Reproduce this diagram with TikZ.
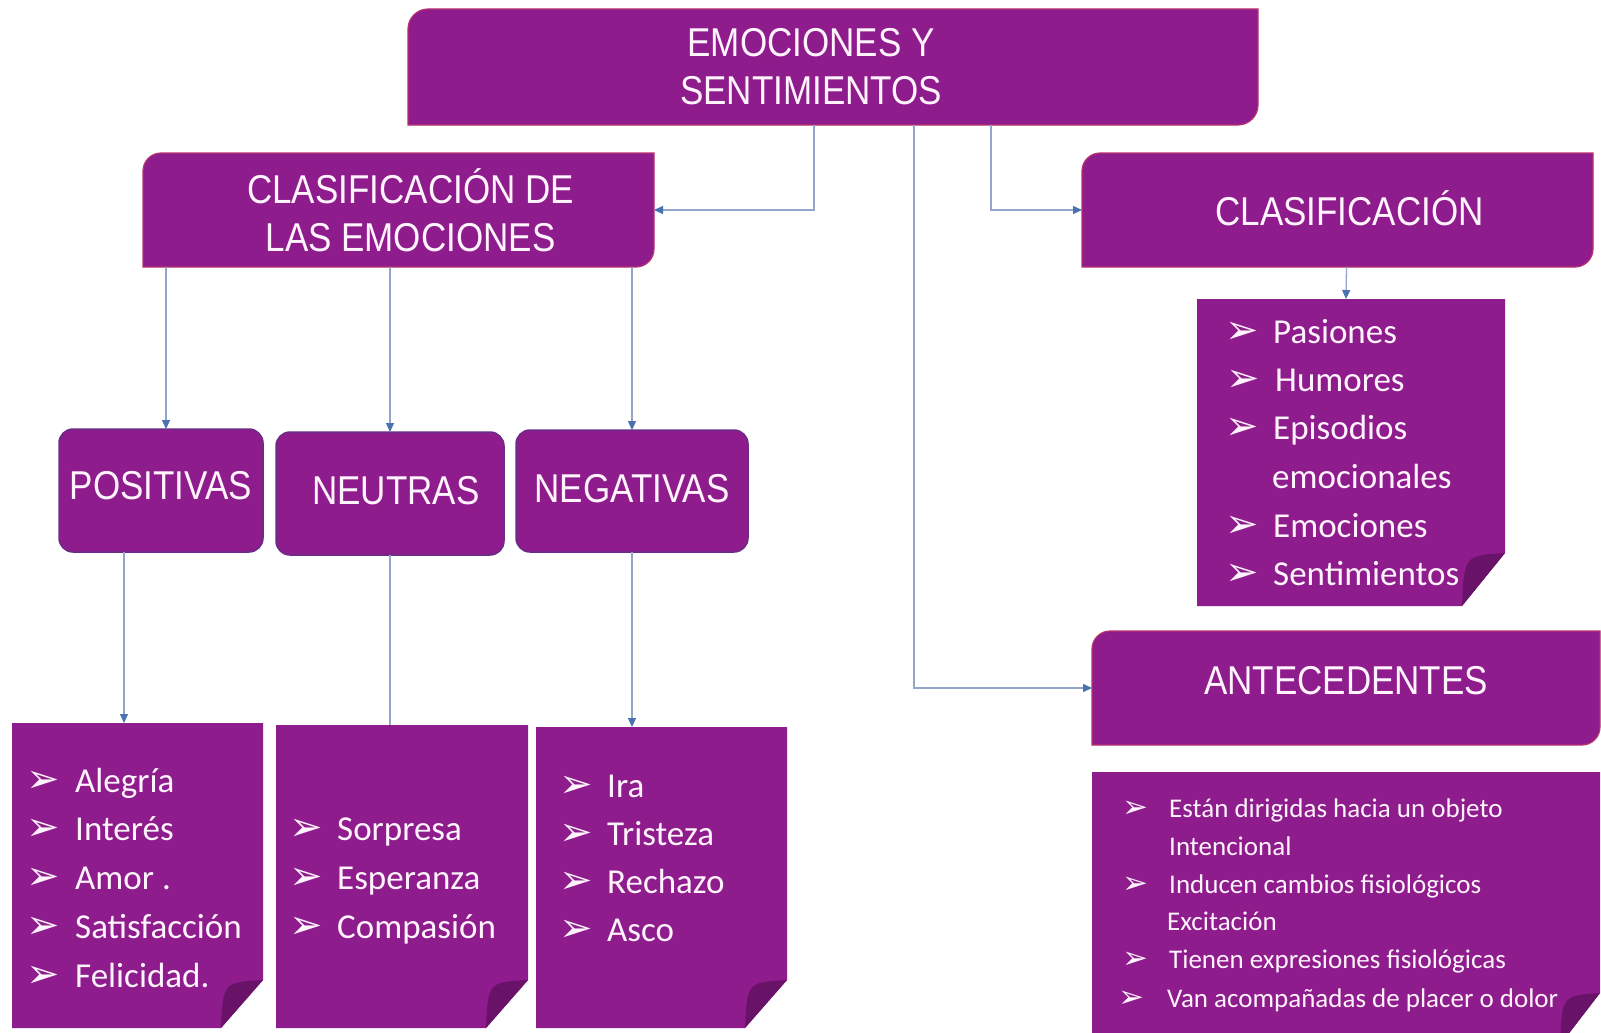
\documentclass[tikz,border=0pt]{standalone}
\usepackage{fontspec}
\usepackage{graphicx}
\setmainfont{Carlito}
\newfontfamily\hdfont{Liberation Sans}
\newfontfamily\symfont{DejaVu Sans}
\usetikzlibrary{arrows.meta,backgrounds}
\definecolor{boxpurple}{HTML}{8E1C8C}
\definecolor{flapcol}{HTML}{681268}
\definecolor{edgecol}{HTML}{B8316F}
\definecolor{smalledge}{HTML}{6A2C86}
\definecolor{linecol}{HTML}{93A6C9}
\definecolor{tipcol}{HTML}{4A72B0}
\definecolor{txtcol}{HTML}{FFF3FD}
\newcommand\hdt[1]{\scalebox{1}[1.15]{#1}}
\newcommand\rdbox[2]{%
  \filldraw[fill=boxpurple, draw=edgecol, line width=1.2pt]
    (#1.south west) -- ([yshift=-#2pt]#1.north west)
    .. controls ([yshift=-0.45*#2pt]#1.north west) and ([xshift=0.45*#2pt]#1.north west) .. ([xshift=#2pt]#1.north west)
    -- (#1.north east) -- ([yshift=#2pt]#1.south east)
    .. controls ([yshift=0.45*#2pt]#1.south east) and ([xshift=-0.45*#2pt]#1.south east) .. ([xshift=-#2pt]#1.south east)
    -- cycle;}
\newcommand\fdbox[3]{%
  \fill[boxpurple] (#1.north west) -- (#1.north east) -- ([yshift=#3pt]#1.south east)
    -- ([xshift=-#2pt]#1.south east) -- (#1.south west) -- cycle;
  \fill[flapcol] ([yshift=#3pt]#1.south east) -- ([xshift=-#2pt]#1.south east)
    .. controls ([xshift=-0.95*#2pt,yshift=0.95*#3pt]#1.south east) .. ([yshift=#3pt]#1.south east) -- cycle;}
\tikzset{
  hd/.style={font=\hdfont\fontsize{35}{48}\selectfont, text=txtcol, align=center, inner sep=0pt, outer sep=0pt, rectangle},
  small/.style={hd, fill=boxpurple, draw=smalledge, line width=1.5pt, rounded corners=14pt},
  listbox/.style={rectangle, inner sep=0pt, outer sep=0pt},
  item/.style={font=\fontsize{35}{42}\selectfont, text=txtcol, anchor=base west, inner sep=0pt},
  bul/.style={font=\symfont\fontsize{40}{44}\selectfont, text=txtcol, anchor=base, inner sep=0pt},
  sitem/.style={font=\fontsize{27}{32}\selectfont, text=txtcol, anchor=base west, inner sep=0pt},
  sbul/.style={font=\symfont\fontsize{31}{34}\selectfont, text=txtcol, anchor=base, inner sep=0pt},
  conn/.style={draw=linecol, line width=1.3pt, -{Triangle[length=9pt,width=8pt,color=tipcol]}},
  connplain/.style={draw=linecol, line width=1.3pt},
}
\begin{document}
\begin{tikzpicture}[x=1pt,y=-1pt]
\useasboundingbox (0,0) rectangle (1601,1033);
% header boxes
\node[hd, minimum width=850, minimum height=116] (top) at (833,67)
  {\hspace*{-44pt}\hdt{EMOCIONES Y}\\\hspace*{-44pt}\hdt{SENTIMIENTOS}};
\node[hd, minimum width=511, minimum height=114] (cdle) at (398.5,210)
  {\hspace*{24pt}\hdt{CLASIFICACIÓN DE}\\\hspace*{24pt}\hdt{LAS EMOCIONES}};
\node[hd, minimum width=511, minimum height=114] (clas) at (1337.5,210)
  {\hspace*{24pt}\raisebox{4pt}{\hdt{CLASIFICACIÓN}}};
\node[hd, minimum width=508, minimum height=114] (ante) at (1346,688)
  {\raisebox{15pt}{\hdt{ANTECEDENTES}}};
% category boxes
\node[small, minimum width=204, minimum height=123] (pos) at (161,490.5) {\raisebox{10pt}{\hdt{POSITIVAS}}};
\node[small, minimum width=228, minimum height=123] (neu) at (390,493.5) {\hspace*{12pt}\raisebox{6pt}{\hdt{NEUTRAS}}};
\node[small, minimum width=232, minimum height=122] (neg) at (632,491) {\raisebox{5pt}{\hdt{NEGATIVAS}}};
% list boxes
\node[listbox, minimum width=251, minimum height=305] (plist) at (137.5,875.5) {};
\node[listbox, minimum width=252, minimum height=303] (nlist) at (402,876.5) {};
\node[listbox, minimum width=251, minimum height=301] (glist) at (661.5,877.5) {};
\node[listbox, minimum width=308, minimum height=307] (clist) at (1351,452.5) {};
\node[listbox, minimum width=508, minimum height=273] (alist) at (1346,908.5) {};
\begin{scope}[on background layer]
  \fill[white] (0,0) rectangle (1601,1033);
  \rdbox{top}{20}
  \rdbox{cdle}{18}
  \rdbox{clas}{18}
  \rdbox{ante}{18}
  \fdbox{plist}{42}{48}
  \fdbox{nlist}{42}{48}
  \fdbox{glist}{42}{48}
  \fdbox{clist}{43}{53}
  \fdbox{alist}{40}{52}
\end{scope}
% list items
\foreach \t [count=\i] in {Alegría,Interés,Amor .,Satisfacción,Felicidad.} {
  \node[bul] (pb\i) at (43,{792+(\i-1)*48.75}) {➢};
  \node[item] (pi\i) at (75,{792+(\i-1)*48.75}) {\t};
}
\foreach \t [count=\i] in {Sorpresa,Esperanza,Compasión} {
  \node[bul] (nb\i) at (306,{840.5+(\i-1)*48.75}) {➢};
  \node[item] (ni\i) at (337,{840.5+(\i-1)*48.75}) {\t};
}
\foreach \t [count=\i] in {Ira,Tristeza,Rechazo,Asco} {
  \node[bul] (gb\i) at (576,{797+(\i-1)*48}) {➢};
  \node[item] (gi\i) at (607,{797+(\i-1)*48}) {\t};
}
\node[bul] (cb1) at (1242,343) {➢};
\node[item] (ci1) at (1273,343) {Pasiones};
\node[bul] (cb2) at (1243,391) {➢};
\node[item] (ci2) at (1275,391) {Humores};
\node[bul] (cb3) at (1242,439) {➢};
\node[item] (ci3) at (1273,439) {Episodios};
\node[item] (ci4) at (1272,488) {emocionales};
\node[bul] (cb5) at (1242,537) {➢};
\node[item] (ci5) at (1273,537) {Emociones};
\node[bul] (cb6) at (1242,585) {➢};
\node[item] (ci6) at (1273,585) {Sentimientos};
\node[sbul] (ab1) at (1135,817) {➢};
\node[sitem] (ai1) at (1169,817) {Están dirigidas hacia un objeto};
\node[sitem] (ai2) at (1169,855) {Intencional};
\node[sbul] (ab3) at (1135,893) {➢};
\node[sitem] (ai3) at (1169,893) {Inducen cambios fisiológicos};
\node[sitem] (ai4) at (1167,930) {Excitación};
\node[sbul] (ab5) at (1135,968) {➢};
\node[sitem] (ai5) at (1169,968) {Tienen expresiones fisiológicas};
\node[sbul] (ab6) at (1131,1007) {➢};
\node[sitem] (ai6) at (1167,1007) {Van acompañadas de placer o dolor};
% connectors
\draw[conn] ([xshift=-19pt]top.south) |- (cdle.east);
\draw[conn] ([xshift=158pt]top.south) |- (clas.west);
\draw[conn] ([xshift=81pt]top.south) |- (ante.west);
\draw[conn] ([xshift=9pt]clas.south) -- ([xshift=-5pt]clist.north);
\draw[conn] ([xshift=5pt]pos.north |- cdle.south) -- ([xshift=5pt]pos.north);
\draw[conn] (neu.north |- cdle.south) -- (neu.north);
\draw[conn] (neg.north |- cdle.south) -- (neg.north);
\draw[conn] ([xshift=-37pt]pos.south) -- ([xshift=-37pt]pos.south |- plist.north);
\draw[connplain] (neu.south) -- (neu.south |- nlist.north);
\draw[conn] (neg.south) -- (neg.south |- glist.north);
\end{tikzpicture}
\end{document}
